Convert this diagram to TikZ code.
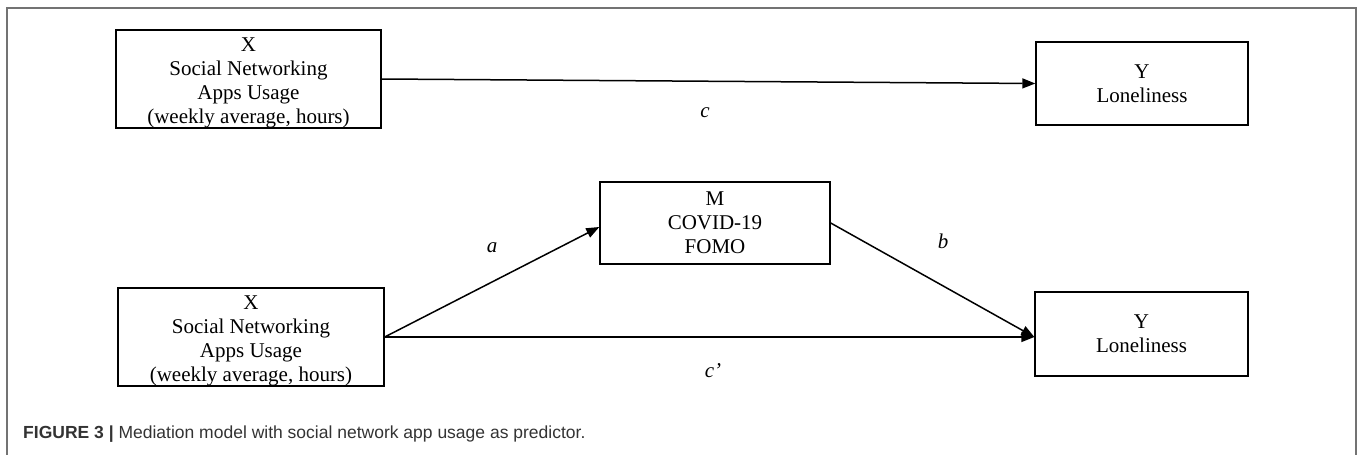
\documentclass[tikz,border=0pt]{standalone}
\usepackage{fontspec}
\setmainfont{Liberation Serif}
\newfontfamily\capfont{Liberation Sans}
\usetikzlibrary{arrows.meta,calc}
\begin{document}
\begin{tikzpicture}[x=1pt,y=-1pt,
  box/.style={draw=black,line width=1.4pt,inner sep=0pt,rectangle},
  boxtext/.style={align=center,font=\fontsize{21}{24}\selectfont,inner sep=0pt},
  conn/.style={draw=black,line width=1.5pt,-{Triangle[length=13pt,width=10pt]}},
  lab/.style={font=\fontsize{21}{24}\selectfont\itshape,inner sep=0pt},
  frameline/.style={draw=black!55,line width=1.5pt}]
\useasboundingbox (0,0) rectangle (1357,455);
% frame
\draw[frameline] (7,455) -- (7,8) -- (1356,8) -- (1356,455);
% boxes
\node[box,minimum width=265pt,minimum height=98pt] (X1) at (248.5,79) {};
\node[boxtext] (X1t) at ([yshift=-4pt]X1.center) {X\\Social Networking\\Apps Usage\\(weekly average, hours)};
\node[box,minimum width=212pt,minimum height=83pt] (Y1) at (1142,83.5) {};
\node[boxtext] (Y1t) at (Y1.center) {Y\\Loneliness};
\node[box,minimum width=230pt,minimum height=82pt] (M) at (715,223) {};
\node[boxtext] (Mt) at (M.center) {M\\COVID-19\\FOMO};
\node[box,minimum width=266pt,minimum height=98pt] (X2) at (251,337) {};
\node[boxtext] (X2t) at ([yshift=-4pt]X2.center) {X\\Social Networking\\Apps Usage\\(weekly average, hours)};
\node[box,minimum width=213pt,minimum height=84pt] (Y2) at (1141.5,334) {};
\node[boxtext] (Y2t) at (Y2.center) {Y\\Loneliness};
% connectors
\draw[conn] (X1.east) -- (Y1.west);
\draw[conn] (X2.east) -- ([yshift=-4pt]M.west);
\draw[conn] (M.east) -- (Y2.west |- X2.east);
\draw[conn] (X2.east) -- (Y2.west |- X2.east);
% labels
\node[lab] (lc) at (705,113) {c};
\node[lab] (la) at (492,248) {a};
\node[lab] (lb) at (943,241) {b};
\node[lab] (lcp) at (713,371) {c’};
% caption
\node[anchor=base west,inner sep=0pt,text=black!80,font=\capfont\fontsize{17.5}{20}\selectfont] (cap) at (23,438) {\textbf{FIGURE 3 |} Mediation model with social network app usage as predictor.};
\end{tikzpicture}
\end{document}
